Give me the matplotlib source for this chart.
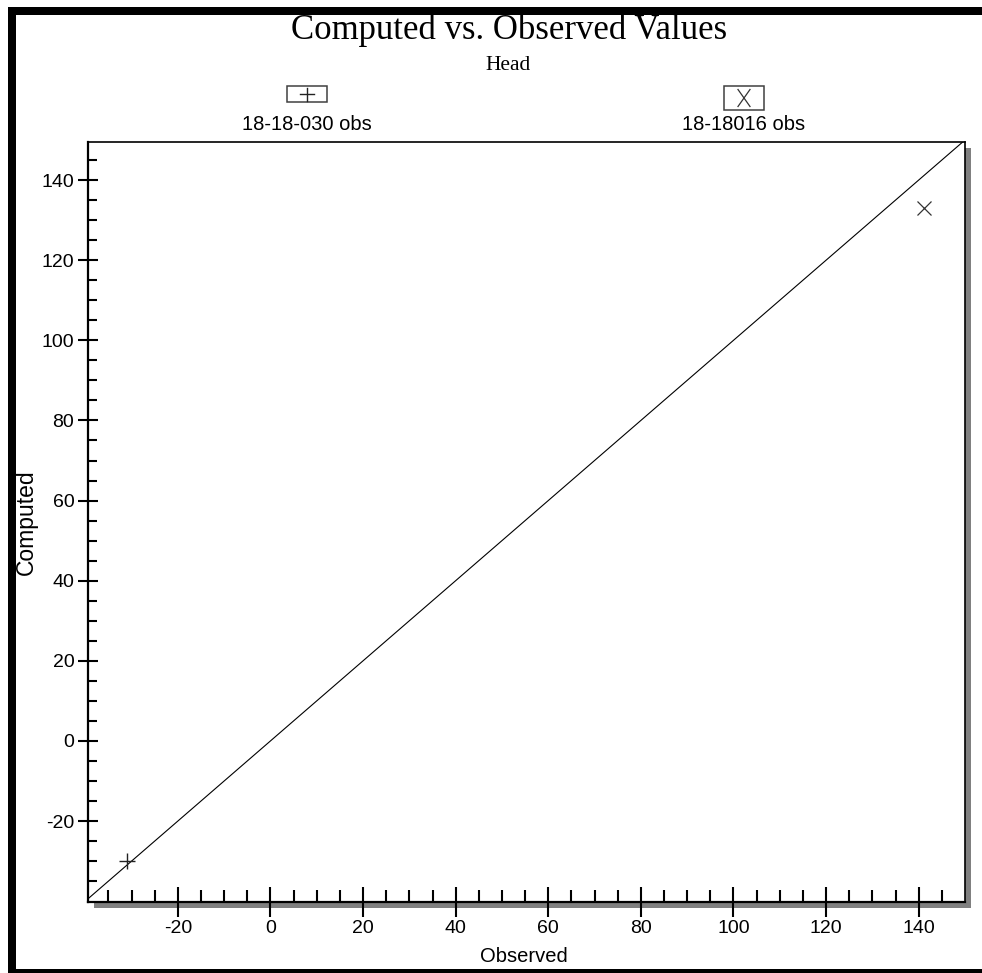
import numpy as np
import matplotlib
matplotlib.use("Agg")
import matplotlib.pyplot as plt
from matplotlib.patches import Rectangle
from matplotlib.lines import Line2D

# data
obs_030 = [-31.0]
comp_030 = [-30.0]
obs_016 = [141.2]
comp_016 = [133.0]
series_names = ["18-18-030 obs", "18-18016 obs"]
x_ticks = [-20, 0, 20, 40, 60, 80, 100, 120, 140]
y_ticks = [-20, 0, 20, 40, 60, 80, 100, 120, 140]
x_limits = (-39.4, 150.0)
y_limits = (-40.2, 149.5)

W, H = 982, 973
SERIF = ["Liberation Serif", "DejaVu Serif"]
SANS = ["Liberation Sans", "DejaVu Sans"]
plt.rcParams["axes.unicode_minus"] = False


def fx(px):
    return px / W


def fy(py):
    # pixel row from top -> figure fraction
    return 1 - py / H


fig = plt.figure(figsize=(W / 100, H / 100), dpi=100)
fig.patch.set_facecolor("white")

# outer black frame (right edge falls outside the picture)
fig.add_artist(Rectangle((fx(12), fy(973)), fx(1000), fy(11) - fy(973),
                         transform=fig.transFigure, fill=False,
                         edgecolor="black", linewidth=8 * 0.72))

ax_left, ax_top, ax_right, ax_bot = 88, 142, 965, 902
ax = fig.add_axes([fx(ax_left), fy(ax_bot), fx(ax_right - ax_left),
                   fy(ax_top) - fy(ax_bot)])

# drop shadow behind the plot box
fig.add_artist(Rectangle((fx(ax_left + 6), fy(ax_bot + 6)),
                         fx(ax_right - ax_left), fy(ax_top) - fy(ax_bot),
                         transform=fig.transFigure, facecolor="#808080",
                         edgecolor="none", zorder=0))
ax.set_zorder(1)
ax.set_facecolor("white")

# 1:1 line
ax.plot([-60, 170], [-60, 170], color="black", linewidth=0.8)
ax.plot(obs_030, comp_030, linestyle="none", marker="+", markersize=11,
        markeredgewidth=1.0, color="#222222")
ax.plot(obs_016, comp_016, linestyle="none", marker="x", markersize=10.5,
        markeredgewidth=0.9, color="#333333")

ax.set_xlim(*x_limits)
ax.set_ylim(*y_limits)
ax.set_xticks(x_ticks)
ax.set_yticks(y_ticks)
ax.set_xticks(np.arange(-35, 150, 5), minor=True)
ax.set_yticks(np.arange(-35, 150, 5), minor=True)

ax.tick_params(axis="x", which="major", direction="inout", length=21,
               width=1.5, pad=2.5, labelsize=14)
ax.tick_params(axis="x", which="minor", direction="in", length=8.6, width=1.5)
ax.tick_params(axis="y", which="major", direction="inout", length=13.7,
               width=1.5, pad=3, labelsize=14)
ax.tick_params(axis="y", which="minor", direction="in", length=6.8, width=1.5)
for lab in ax.get_xticklabels() + ax.get_yticklabels():
    lab.set_family(SANS)

for side in ["left", "bottom"]:
    ax.spines[side].set_linewidth(1.6)
for side in ["top", "right"]:
    ax.spines[side].set_linewidth(1.2)

# axis labels
fig.text(fx(26), fy(522), "Computed", rotation=90, ha="center", va="center",
         fontsize=16.5, family=SANS)
fig.text(fx(524), fy(957), "Observed", ha="center", va="center",
         fontsize=14.5, family=SANS)

# titles
fig.text(fx(509), fy(39), "Computed vs. Observed Values", ha="center",
         va="baseline", fontsize=25, family=SERIF)
fig.text(fx(508), fy(70), "Head", ha="center", va="baseline", fontsize=15.5,
         family=SERIF)

# legend boxes above the plot
fig.add_artist(Rectangle((fx(287), fy(102)), fx(40), fy(86) - fy(102),
                         transform=fig.transFigure, fill=False,
                         edgecolor="#404040", linewidth=1.1))
fig.add_artist(Line2D([fx(300), fx(314)], [fy(94), fy(94)],
                      transform=fig.transFigure, color="#222222", lw=1.0))
fig.add_artist(Line2D([fx(307), fx(307)], [fy(87.5), fy(101)],
                      transform=fig.transFigure, color="#222222", lw=1.0))

fig.add_artist(Rectangle((fx(724), fy(110)), fx(40), fy(86) - fy(110),
                         transform=fig.transFigure, fill=False,
                         edgecolor="#404040", linewidth=1.1))
fig.add_artist(Line2D([fx(738), fx(750)], [fy(89.5), fy(106.5)],
                      transform=fig.transFigure, color="#333333", lw=0.9))
fig.add_artist(Line2D([fx(738), fx(750)], [fy(106.5), fy(89.5)],
                      transform=fig.transFigure, color="#333333", lw=0.9))

fig.text(fx(307), fy(130), series_names[0], ha="center", va="baseline",
         fontsize=14.5, family=SANS)
fig.text(fx(744), fy(130), series_names[1], ha="center", va="baseline",
         fontsize=14.5, family=SANS)

fig.savefig("out.png", dpi=100, facecolor="white")
